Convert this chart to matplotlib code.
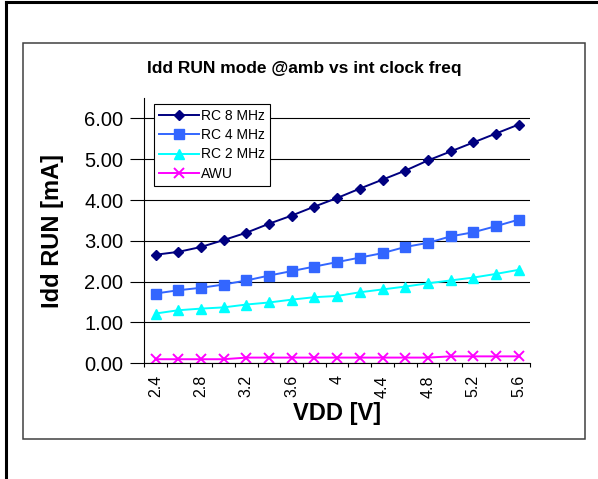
# Idd RUN mode vs VDD for the internal RC clock settings.

import numpy as np
import matplotlib
matplotlib.use("Agg")
import matplotlib.pyplot as plt
from matplotlib.lines import Line2D
from matplotlib.patches import Rectangle
from matplotlib.ticker import FormatStrFormatter

plt.rcParams["font.family"] = ["Liberation Sans", "DejaVu Sans"]

# Data.
vdd = [2.4, 2.6, 2.8, 3.0, 3.2, 3.4, 3.6, 3.8, 4.0, 4.2, 4.4, 4.6, 4.8, 5.0, 5.2, 5.4, 5.6]
rc8 = [2.66, 2.73, 2.85, 3.02, 3.20, 3.42, 3.62, 3.84, 4.05, 4.28, 4.50, 4.72, 4.97, 5.19, 5.41, 5.63, 5.85]
rc4 = [1.71, 1.79, 1.85, 1.93, 2.03, 2.15, 2.26, 2.37, 2.48, 2.59, 2.70, 2.85, 2.95, 3.11, 3.21, 3.36, 3.52]
rc2 = [1.22, 1.30, 1.34, 1.37, 1.44, 1.49, 1.56, 1.62, 1.65, 1.74, 1.81, 1.88, 1.96, 2.03, 2.10, 2.19, 2.29]
awu = [0.10, 0.10, 0.10, 0.10, 0.14, 0.14, 0.14, 0.14, 0.14, 0.14, 0.14, 0.14, 0.14, 0.17, 0.17, 0.17, 0.17]

W, H = 598, 479


def fx(px):
    return px / W


def fy(py):
    return 1 - py / H


fig = plt.figure(figsize=(W / 100, H / 100), dpi=100)

# Page border lines and chart frame.
fig.add_artist(Line2D([fx(6), fx(6)], [fy(2), 0], transform=fig.transFigure,
                      color="black", lw=2.2))
fig.add_artist(Line2D([fx(6), 1], [fy(2), fy(2)], transform=fig.transFigure,
                      color="black", lw=2.2))
fig.add_artist(Rectangle((fx(22.7), fy(439)), fx(585) - fx(22.7), fy(42.7) - fy(439),
                         transform=fig.transFigure, fill=False,
                         edgecolor="#404040", lw=1.1))

ax = fig.add_axes([fx(144.3), fy(363.3), fx(530) - fx(144.3), fy(98) - fy(363.3)])

x = np.arange(len(vdd))
ax.plot(x, rc8, color="#000080", marker="D", ms=5.5, lw=1.4, label="RC 8 MHz")
ax.plot(x, rc4, color="#3366FF", marker="s", ms=7, lw=1.4, label="RC 4 MHz")
ax.plot(x, rc2, color="#00FFFF", marker="^", ms=7.5, lw=1.4, label="RC 2 MHz")
ax.plot(x, awu, color="#FF00FF", marker="x", ms=7, mew=1.4, lw=1.4, label="AWU")

ax.set_xlim(-0.5, len(vdd) - 0.5)
ax.set_ylim(0, 6.5)
ax.set_yticks(np.arange(0, 7, 1))
ax.yaxis.set_major_formatter(FormatStrFormatter("%.2f"))
ax.yaxis.grid(True, color="black", lw=0.8)
ax.set_axisbelow(True)
for side in ("top", "right"):
    ax.spines[side].set_visible(False)
for side in ("left", "bottom"):
    ax.spines[side].set_linewidth(0.8)

ax.set_xticks(x[::2])
ax.set_xticklabels([f"{v:g}" for v in vdd[::2]])
ax.set_xticks(np.arange(-0.5, len(vdd)), minor=True)
ax.tick_params(axis="x", which="major", length=0, pad=8.5, labelsize=11.5, labelrotation=90)
ax.tick_params(axis="x", which="minor", length=3, width=0.8, direction="out")
ax.tick_params(axis="y", length=10, width=0.8, direction="out", pad=5, labelsize=14.5)

ax.set_xlabel("VDD [V]", fontsize=17, fontweight="bold")
ax.xaxis.set_label_coords(0.5, -0.146)
ax.set_ylabel("Idd RUN [mA]", fontsize=17, fontweight="bold")
ax.yaxis.set_label_coords(-0.208, 0.5)

fig.text(fx(304), fy(68), "Idd RUN mode @amb vs int clock freq",
         ha="center", va="center", fontsize=12.5, fontweight="bold")

leg = ax.legend(loc="upper left", bbox_to_anchor=(fx(154), fy(104)),
                bbox_transform=fig.transFigure, borderaxespad=0, fancybox=False,
                edgecolor="black", framealpha=1, fontsize=10, handlelength=2.9,
                handletextpad=0.15, labelspacing=0.38, borderpad=0.35)
leg.get_frame().set_linewidth(0.8)

fig.savefig("out.png", dpi=100)
